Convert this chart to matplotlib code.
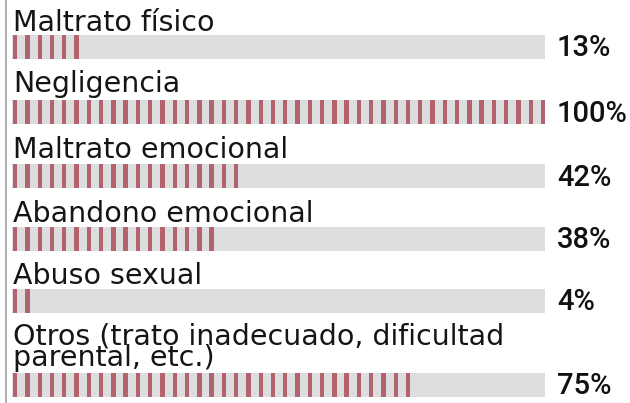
import matplotlib
matplotlib.use("Agg")
import matplotlib.pyplot as plt
from matplotlib.lines import Line2D

categories = ["Maltrato físico", "Negligencia", "Maltrato emocional",
              "Abandono emocional", "Abuso sexual",
              "Otros (trato inadecuado, dificultad\nparental, etc.)"]
values = [13, 100, 42, 38, 4, 75]
value_labels = ["13%", "100%", "42%", "38%", "4%", "75%"]

# layout (pixel units, y from top); baseline of the last text line
bar_centers = [47, 112, 176, 239, 301, 385]
label_baselines = [31, 92, 158, 222, 284, 366]
bar_h = 24
W, H = 630, 403
dpi = 100

fig = plt.figure(figsize=(W / dpi, H / dpi), dpi=dpi)
ax = fig.add_axes([12 / W, 0, 533 / W, 1])
ax.set_xlim(0, 100)
ax.set_ylim(H, 0)
ax.axis("off")

gray = "#dcdddf"
red = "#b4626e"
start = 0.19
period = 2.303
sw = 0.82

for cat, v, lab, yc, yb in zip(categories, values, value_labels, bar_centers, label_baselines):
    ax.barh(yc, 100, height=bar_h, left=0, color=gray, linewidth=0)
    k = 0
    while start + k * period < v:
        ax.barh(yc, sw, height=bar_h, left=start + k * period, color=red, linewidth=0)
        k += 1
    ax.text(0.19, yb, cat, ha="left", va="baseline",
            fontsize=20.5, color="#151515", family="DejaVu Sans",
            linespacing=0.72)
    ax.text(102.25, yc + 9.5, lab, ha="left", va="baseline",
            fontsize=21, color="#111111", family="Roboto", fontweight="medium")

fig.add_artist(Line2D([5.5 / W, 5.5 / W], [0, 1], color="#a0a0a0", lw=1.2))

fig.savefig("out.png", dpi=dpi)
